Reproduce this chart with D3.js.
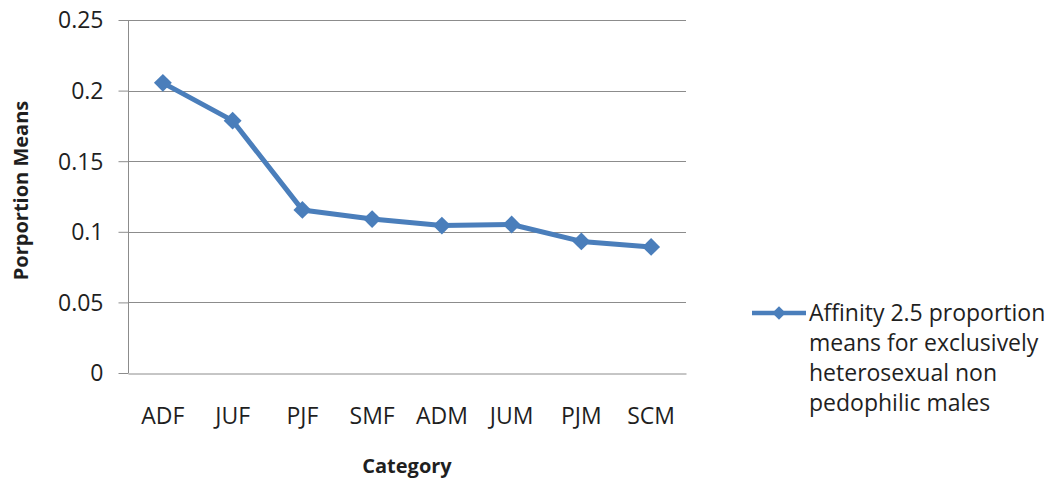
<!DOCTYPE html>
<html>
<head>
<meta charset="utf-8">
<script src="https://cdn.jsdelivr.net/npm/d3@7"></script>
<style>
  body { margin: 0; background: #fff; }
  svg { display: block; font-family: "Open Sans", "Noto Sans", sans-serif; }
</style>
</head>
<body>
<svg width="1054" height="481"></svg>
<script>
const categories = ["ADF", "JUF", "PJF", "SMF", "ADM", "JUM", "PJM", "SCM"];
const values = [0.2055, 0.1787, 0.1155, 0.109, 0.1044, 0.1052, 0.0932, 0.0893];
const yTicks = [0, 0.05, 0.1, 0.15, 0.2, 0.25];
const seriesName = ["Affinity 2.5 proportion", "means for exclusively", "heterosexual non", "pedophilic males"];

const svg = d3.select("svg");
const area = { left: 128, right: 686, top: 20, bottom: 373 };
const color = "#4a7ebb";
const textColor = "#1f1f1f";

const scX = d3.scaleBand()
    .domain(categories)
    .range([area.left, area.right]);
const scY = d3.scaleLinear()
    .domain([0, 0.25])
    .range([area.bottom, area.top]);

// gridlines
svg.append("g")
    .selectAll("line")
    .data(yTicks.slice(1))
    .enter()
    .append("line")
    .attr("x1", area.left)
    .attr("x2", area.right)
    .attr("y1", d => Math.round(scY(d)) + 0.5)
    .attr("y2", d => Math.round(scY(d)) + 0.5)
    .attr("stroke", "#8c8c8c")
    .attr("stroke-width", 1);

// y axis
const axisY = d3.axisLeft(scY)
    .tickValues(yTicks)
    .tickFormat(d => String(d))
    .tickSize(10)
    .tickPadding(15);
const gY = svg.append("g")
    .attr("transform", `translate(${area.left + 0.5}, 0.5)`)
    .call(axisY);
gY.select(".domain").attr("stroke", "#8c8c8c").attr("d", `M0,${area.top - 0.5}V${area.bottom - 0.5}`);
gY.selectAll(".tick line").attr("stroke", "#8c8c8c").attr("transform", "translate(0,-0.5)");
gY.selectAll(".tick text")
    .attr("fill", textColor)
    .style("font-size", "23px")
    .style("font-family", "'Open Sans', sans-serif");

// x axis
const axisX = d3.axisBottom(scX).tickSize(0).tickPadding(34);
const gX = svg.append("g")
    .attr("transform", `translate(0, ${Math.round(area.bottom) + 0.5})`)
    .call(axisX);
gX.select(".domain").attr("stroke", "#8c8c8c");
gX.selectAll(".tick text")
    .attr("fill", textColor)
    .style("font-size", "23px")
    .style("font-family", "'Open Sans', sans-serif");

// axis titles
svg.append("text")
    .attr("transform", `translate(28, ${(area.top + area.bottom) / 2 - 6}) rotate(-90)`)
    .attr("text-anchor", "middle")
    .style("font-size", "20px")
    .style("font-weight", "bold")
    .attr("fill", textColor)
    .text("Porportion Means");

svg.append("text")
    .attr("x", (area.left + area.right) / 2)
    .attr("y", 473)
    .attr("text-anchor", "middle")
    .style("font-size", "20px")
    .style("font-weight", "bold")
    .attr("fill", textColor)
    .text("Category");

// line
const line = d3.line()
    .x((d, i) => scX(categories[i]) + scX.bandwidth() / 2)
    .y(d => scY(d));
svg.append("path")
    .datum(values)
    .attr("d", line)
    .attr("fill", "none")
    .attr("stroke", color)
    .attr("stroke-width", 5)
    .attr("stroke-linejoin", "round");

const diamond = d3.symbol().type(d3.symbolSquare).size(160);
svg.append("g")
    .selectAll("path")
    .data(values)
    .enter()
    .append("path")
    .attr("d", diamond)
    .attr("transform", (d, i) => `translate(${scX(categories[i]) + scX.bandwidth() / 2}, ${scY(d)}) rotate(45)`)
    .attr("fill", color);

// legend
const lg = svg.append("g").attr("transform", "translate(752, 313)");
lg.append("line")
    .attr("x1", 0).attr("x2", 54)
    .attr("stroke", color).attr("stroke-width", 4.5);
lg.append("path")
    .attr("d", d3.symbol().type(d3.symbolSquare).size(90))
    .attr("transform", "translate(27,0) rotate(45)")
    .attr("fill", color);
lg.selectAll("text")
    .data(seriesName)
    .enter()
    .append("text")
    .attr("x", 57)
    .attr("y", (d, i) => i * 30 + 8)
    .style("font-size", "23px")
    .attr("fill", textColor)
    .text(d => d);
</script>
</body>
</html>
